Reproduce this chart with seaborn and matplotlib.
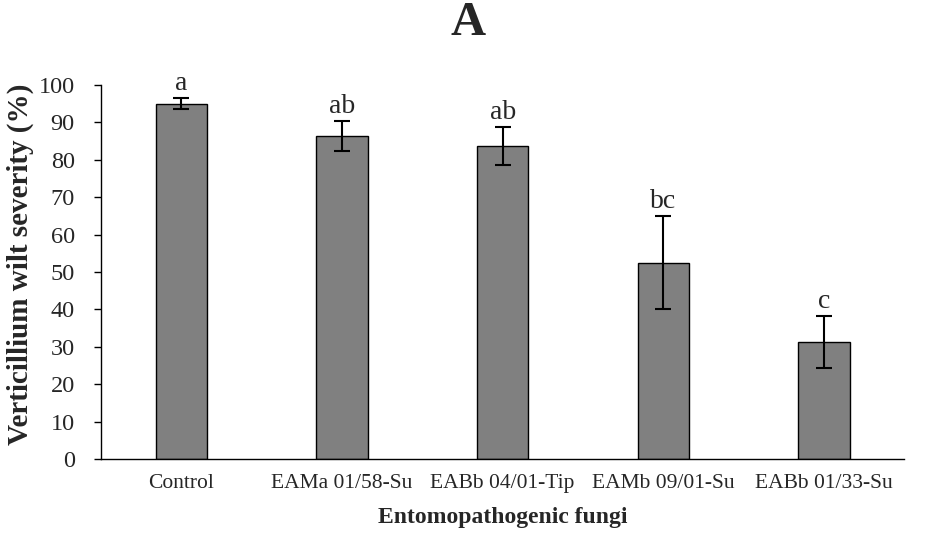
import matplotlib
matplotlib.use("Agg")
import matplotlib.pyplot as plt
import seaborn as sns
import pandas as pd

categories = ["Control", "EAMa 01/58-Su", "EABb 04/01-Tip", "EAMb 09/01-Su", "EABb 01/33-Su"]
severity = [95.0, 86.3, 83.7, 52.5, 31.3]
errors = [1.5, 4.0, 5.0, 12.4, 7.0]
letters = ["a", "ab", "ab", "bc", "c"]

sns.set_style("white")
plt.rcParams['font.family'] = ['Liberation Serif', 'DejaVu Serif']

df = pd.DataFrame({"fungi": categories, "sev": severity})

fig = plt.figure(figsize=(9.36, 5.35), dpi=100)
ax = fig.add_axes([0.108, 0.142, 0.858, 0.699])
sns.barplot(data=df, x="fungi", y="sev", color="#808080", saturation=1,
            edgecolor="black", linewidth=1.0, width=0.32, ax=ax, errorbar=None)
ax.errorbar(range(len(categories)), severity, yerr=errors, fmt="none",
            ecolor="black", elinewidth=1.5, capsize=5.5, capthick=1.5)
for i, (v, e, t) in enumerate(zip(severity, errors, letters)):
    ax.text(i, v + e + 0.6, t, ha="center", va="bottom", fontsize=20)

ax.set_ylim(0, 100)
ax.set_yticks(range(0, 101, 10))
ax.set_xlim(-0.5, 4.5)
for s in ["top", "right"]:
    ax.spines[s].set_visible(False)
for s in ["left", "bottom"]:
    ax.spines[s].set_color("black")
    ax.spines[s].set_linewidth(1.0)
ax.tick_params(axis="y", which="major", direction="out", length=5, width=1, color="black",
               labelsize=17.5, left=True, pad=14)
ax.tick_params(axis="x", length=0, labelsize=15.5, pad=11)
ax.set_xlabel("Entomopathogenic fungi", fontsize=17, fontweight="bold", labelpad=10)
ax.set_ylabel("Verticillium wilt severity (%)", fontsize=21, fontweight="bold")
ax.yaxis.set_label_coords(-0.084, 0.52)
fig.suptitle("A", fontsize=35, fontweight="bold", y=0.998)

fig.savefig("out.png", dpi=100)
